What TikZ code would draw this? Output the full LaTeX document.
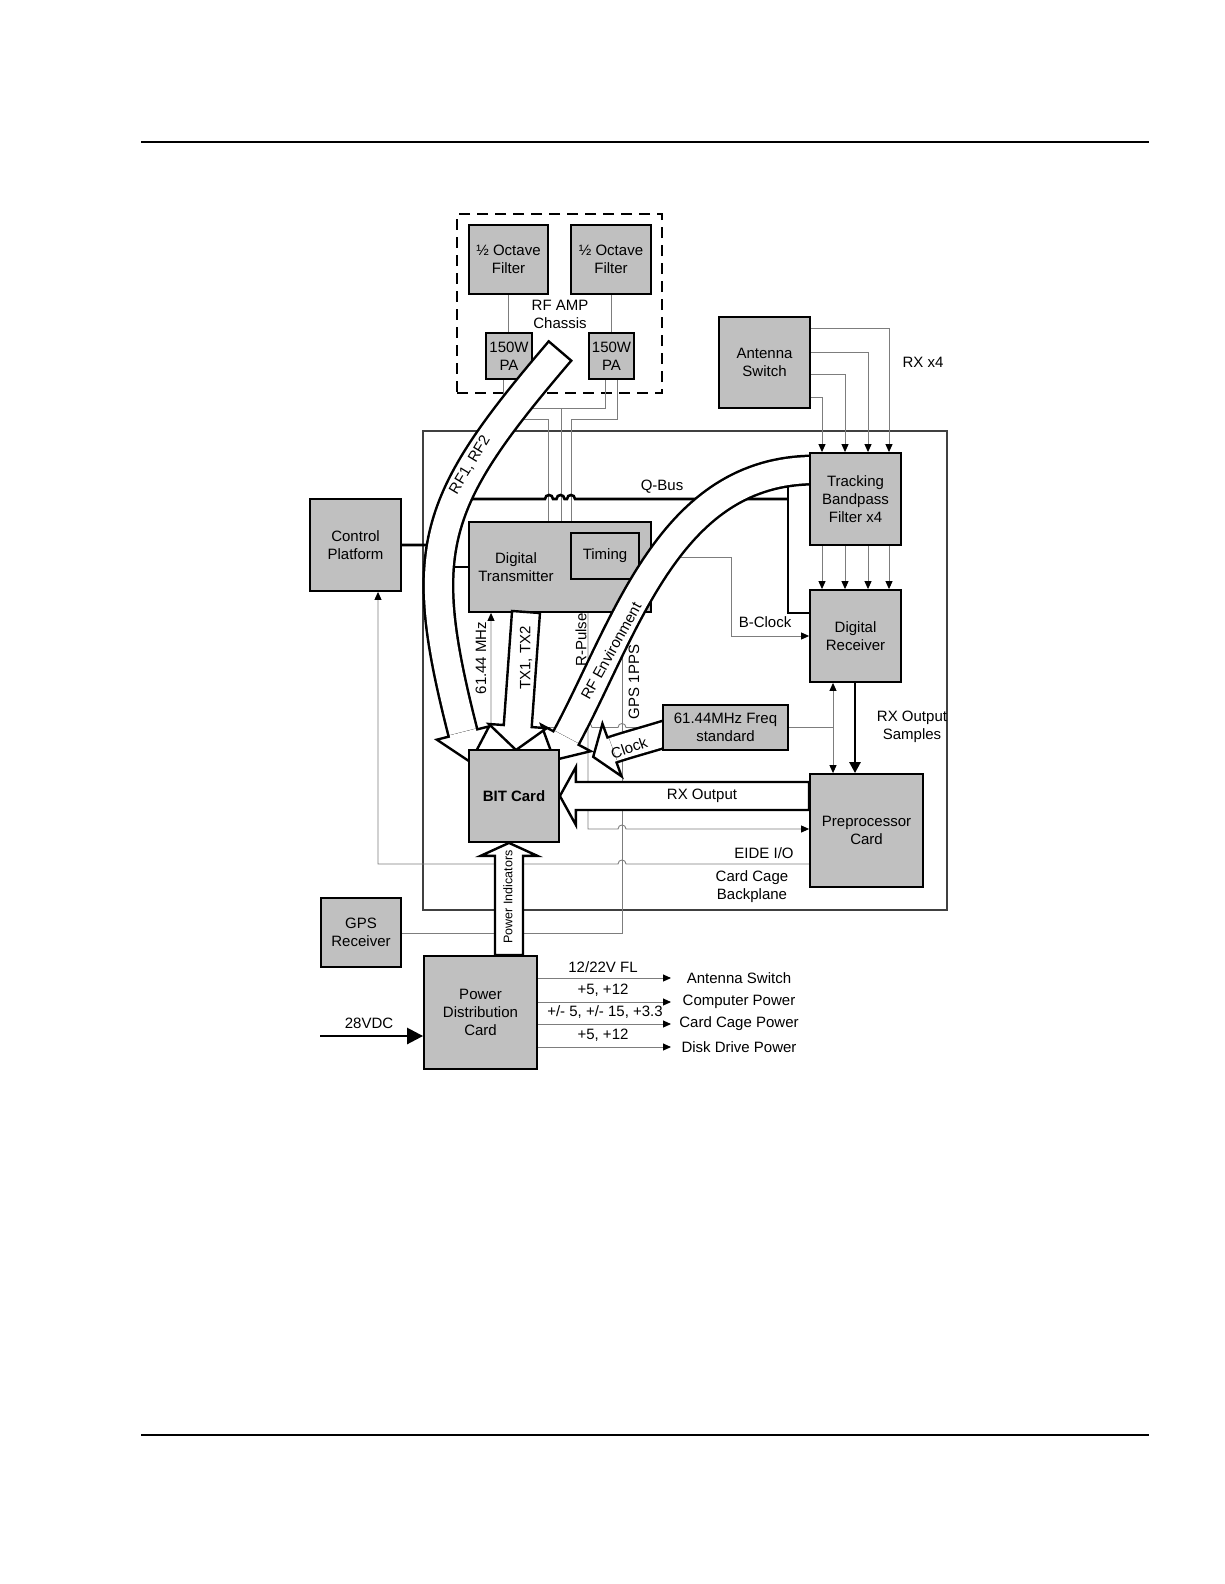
\documentclass[tikz,border=0pt]{standalone}
\usepackage{fontspec}
\setmainfont{Liberation Sans}
\usetikzlibrary{arrows.meta, calc}

\definecolor{cardgray}{RGB}{192,192,192}
\definecolor{wiregray}{RGB}{125,125,125}

\pgfdeclarelayer{wires}
\pgfdeclarelayer{under}
\pgfdeclarelayer{pipes}
\pgfsetlayers{wires,under,pipes,main}

% straight hollow arrow: start, tip, half shaft, half head, head length
\newcommand{\pipearrow}[5]{%
  \coordinate (pa-base) at ($(#2)!#5!(#1)$);
  \draw[pipe] ($(#1)!#3!90:(#2)$) -- ($(pa-base)!#3!90:(#2)$) -- ($(pa-base)!#4!90:(#2)$)
    -- (#2) -- ($(pa-base)!#4!-90:(#2)$) -- ($(pa-base)!#3!-90:(#2)$) -- ($(#1)!#3!-90:(#2)$) -- cycle;
}
% bent hollow arrow: start, control 1, control 2, base, outer, inner, half head, head length
\newcommand{\bentpipe}[8]{%
  \coordinate (bp-tip) at ($(#4)!-#8!(#3)$);
  \draw[line width=#5] (#1) .. controls (#2) and (#3) .. (#4);
  \draw[white, line width=#6] (#1) .. controls (#2) and (#3) .. (#4);
  \draw[pipe] ($(#4)!#7!90:(bp-tip)$) -- (bp-tip) -- ($(#4)!#7!-90:(bp-tip)$) -- cycle;
  \draw[white, line width=#6] ($(#4)!-1pt!(bp-tip)$) -- ($(#4)!3pt!(bp-tip)$);
}
% small bridge over a crossing wire, going right or left
\newcommand{\hopR}[2]{-- (#1-4,#2) .. controls (#1-4,#2-5.3) and (#1+4,#2-5.3) .. (#1+4,#2)}
\newcommand{\hopL}[2]{-- (#1+4,#2) .. controls (#1+4,#2-5.3) and (#1-4,#2-5.3) .. (#1-4,#2)}

\begin{document}
\begin{tikzpicture}[x=1pt, y=-1pt,
  font=\fontsize{15}{18}\selectfont,
  card/.style={draw, line width=1.8pt, fill=cardgray, inner sep=0pt, align=center},
  wire/.style={draw=wiregray, line width=0.9pt},
  wirearr/.style={wire, -{Triangle[length=8pt, width=7pt, color=black]}},
  bus/.style={line width=2.6pt},
  pipe/.style={draw, fill=white, line width=2.4pt, line join=miter},
  txt/.style={inner sep=0pt, align=center}
]
\useasboundingbox (0,0) rectangle (1224,1584);

% page rules
\draw[line width=1.8pt] (141,142) -- (1149,142);
\draw[line width=1.2pt] (141,1435) -- (1149,1435);

% cards under the big arrows
\begin{pgfonlayer}{under}
\node[card, minimum width=79, minimum height=69] (filA) at (508.5,259.5) {½ Octave\\Filter};
\node[card, minimum width=80, minimum height=69] (filB) at (611,259.5) {½ Octave\\Filter};
\node[card, minimum width=46, minimum height=46] (paA) at (509,356) {150W\\PA};
\node[card, minimum width=45, minimum height=46] (paB) at (611.5,356) {150W\\PA};
\node[card, minimum width=91, minimum height=91] (antsw) at (764.5,362.5) {Antenna\\Switch};
\node[card, minimum width=91, minimum height=92] (cp) at (355.5,545) {Control\\Platform};
\node[card, minimum width=182, minimum height=90] (dt) at (560,567) {};
\node[txt] (dtname) at (516,567) {Digital\\Transmitter};
\node[card, minimum width=68, minimum height=46] (timing) at (605,556) {Timing};
\node[card, minimum width=91, minimum height=92] (dr) at (855.5,636) {Digital\\Receiver};
\node[card, minimum width=80, minimum height=69] (gps) at (361,932.5) {GPS\\Receiver};
\end{pgfonlayer}

% cards over the big arrows
\node[card, minimum width=91, minimum height=92] (tbf) at (855.5,499) {Tracking\\Bandpass\\Filter x4};
\node[card, minimum width=90, minimum height=92, font=\fontsize{15}{18}\selectfont\bfseries] (bit) at (514,796) {BIT Card};
\node[card, minimum width=113, minimum height=113] (pp) at (866.5,830.5) {Preprocessor\\Card};
\node[card, minimum width=125, minimum height=45] (freq) at (725.5,727.5) {61.44MHz Freq\\standard};
\node[card, minimum width=113, minimum height=113] (pdc) at (480.5,1012.5) {Power\\Distribution\\Card};

\begin{pgfonlayer}{wires}
% enclosures
\node[draw=black!75, line width=1.1pt, minimum width=524, minimum height=479, inner sep=0pt] (cage) at (685,670.5) {};
\node[draw, dash pattern=on 11pt off 7pt, line width=1.4pt, minimum width=205, minimum height=179, inner sep=0pt] (chassis) at (559.5,303.5) {};

% RF amp chassis
\draw[wire] (filA.south) -- (filA.south |- paA.north);
\draw[wire] (filB.south) -- (filB.south |- paB.north);
\draw[wire] (paA.south -| 503,0) -- (503,419) -- (548,419) -- (dt.north -| 548,0);
\draw[wire] (paA.south -| 519,0) -- (519,408) -- (605,408) -- (paB.south -| 605,0);
\draw[wire] (561,408) -- (dt.north -| 561,0);
\draw[wire] (paB.south -| 617,0) -- (617,419) -- (571,419) -- (dt.north -| 571,0);

% receive chain
\foreach \y/\x in {328/889, 352/868, 374/845, 397/822}
  \draw[wirearr] (antsw.east |- 0,\y) -- (\x,\y) -- (tbf.north -| \x,0);
\foreach \x in {822,845,868,889}
  \draw[wirearr] (tbf.south -| \x,0) -- (dr.north -| \x,0);

% Q-Bus
\draw[bus] (cp.east) -- (452,545) -- (452,499) \hopR{549}{499} -- (556,499)
  \hopR{560.5}{499} \hopR{571}{499} -- (788,499);
\draw[bus] (788,475) -- (788,613) -- (dr.west |- 0,613);
\draw[bus] (452,545) -- (452,567) -- (dt.west |- 0,567);

% clocks and control
\draw[wirearr] (timing.east |- 0,557) -- (731,557) -- (731,636) -- (dr.west |- 0,636);
\draw[wirearr] (gps.east |- 0,933) -- (622,933) -- (timing.south -| 622,0);
\draw[wirearr] (timing.south -| 588,0) -- (588,829) \hopR{622}{829} -- (pp.west |- 0,829);
\draw[wirearr] (pp.west |- 0,864) \hopL{622}{864} -- (378,864) -- (cp.south -| 378,0);
\draw[wirearr] (freq.west) \hopL{622}{727.5} \hopL{588}{727.5} -- (491,727.5) -- (dt.south -| 491,0);
\draw[wire] (freq.east) -- (833,727.5);
\draw[wire, {Triangle[length=8pt, width=7pt, color=black]}-{Triangle[length=8pt, width=7pt, color=black]}]
  (dr.south -| 833,0) -- (pp.north -| 833,0);
\draw[bus, -{Triangle[length=11pt, width=11pt]}] (dr.south -| 855,0) -- (pp.north -| 855,0);
\end{pgfonlayer}

% big hollow arrows
\begin{pgfonlayer}{pipes}
% RF1, RF2
\coordinate (rfS) at (560,351);
\bentpipe{rfS}{430,503}{416,549}{463,733}{32pt}{27pt}{27pt}{30pt}
\draw[line width=2.4pt] ($(rfS)!16pt!90:(430,503)$) -- ($(rfS)!16pt!-90:(430,503)$);
% RF Environment
\bentpipe{815,470}{670,470}{627,624}{566,738}{31pt}{26pt}{28pt}{25pt}
% TX1, TX2
\coordinate (txS) at (526,612);
\coordinate (txT) at (516,750);
\pipearrow{txS}{txT}{14pt}{29pt}{24pt}
% Clock
\bentpipe{668,733}{649,739}{623,746}{612,750}{29pt}{24pt}{28pt}{20pt}
% RX Output
\coordinate (rxS) at (pp.west |- 0,796);
\pipearrow{rxS}{bit.east}{14pt}{29pt}{16pt}
% Power Indicators
\coordinate (piS) at (pdc.north -| 509,0);
\coordinate (piT) at (bit.south -| 509,0);
\pipearrow{piS}{piT}{14pt}{28.5pt}{13pt}
\end{pgfonlayer}

% power distribution
\coordinate (vin) at (320,1036);
\draw[bus, -{Triangle[length=16pt, width=16pt]}] (vin) -- (pdc.west |- vin);
\node[txt] (vinl) at (369,1023) {28VDC};
\node[txt] (outA) at (739,978) {Antenna Switch};
\node[txt] (outB) at (739,1002) {Computer Power};
\node[txt] (outC) at (739,1024) {Card Cage Power};
\node[txt] (outD) at (739,1047) {Disk Drive Power};
\foreach \o in {outA,outB,outC,outD}
  \draw[wirearr] (pdc.east |- \o) -- (671,0 |- \o);
\node[txt] (pwrA) at (603,967) {12/22V FL};
\node[txt] (pwrB) at (603,990) {+5, +12};
\node[txt] (pwrC) at (605,1012) {+/- 5, +/- 15, +3.3};
\node[txt] (pwrD) at (603,1035) {+5, +12};

% labels
\node[txt] (ampname) at (560,314) {RF AMP\\Chassis};
\node[txt] (rxfour) at (923,362) {RX x4};
\node[txt] (qbus) at (662,487) {Q-Bus};
\node[txt] (bclk) at (765,622) {B-Clock};
\node[txt] (rxsmp) at (912,727) {RX Output\\Samples};
\node[txt] (eide) at (764,853) {EIDE I/O};
\node[txt] (backpl) at (752,887) {Card Cage\\Backplane};
\node[txt, rotate=90] (mhzl) at (481,658) {61.44 MHz};
\node[txt, rotate=90] (txl) at (526,658) {TX1, TX2};
\node[txt, rotate=90] (rpl) at (581,640) {R-Pulse};
\node[txt, rotate=90] (ppsl) at (634,682) {GPS 1PPS};
\node[txt, rotate=59] (rfl) at (470,465) {RF1, RF2};
\node[txt, rotate=61] (envl) at (611,651) {RF Environment};
\node[txt, rotate=19] (clkl) at (629,748) {Clock};
\node[txt] (rxol) at (702,796) {RX Output};
\node[txt, rotate=90, font=\fontsize{12.5}{15}\selectfont] (pwrl) at (508,897) {Power Indicators};
\end{tikzpicture}
\end{document}
